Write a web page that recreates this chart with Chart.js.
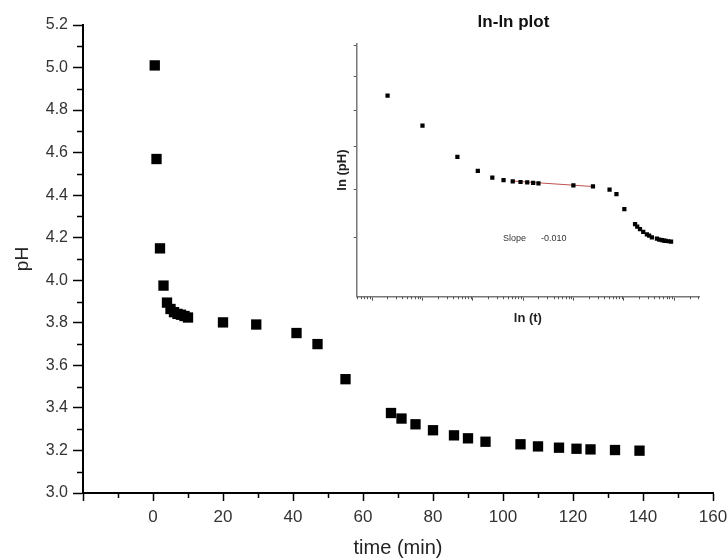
<!DOCTYPE html>
<html lang="en">
<head>
  <meta charset="UTF-8" />
  <title>pH vs time</title>
  <script src="https://cdn.jsdelivr.net/npm/chart.js"></script>
  <style>
    body { margin: 0; background: #fff; }
    .wrap { position: relative; width: 727px; height: 560px; }
    #main { position: absolute; left: 0; top: 0; }
    #inset { position: absolute; left: 328px; top: 0; }
  </style>
</head>
<body>
  <div class="wrap">
    <canvas id="main" width="727" height="560"></canvas>
    <canvas id="inset" width="380" height="330"></canvas>
  </div>
  <script>
    // data
    const timeMin = [0.5, 1, 2, 3, 4, 5, 6, 7, 8, 9, 10, 20, 29.5, 41, 47, 55, 68, 71, 75, 80, 86, 90, 95, 105, 110, 116, 121, 125, 132, 139];
    const pHValues = [5.01, 4.57, 4.15, 3.975, 3.895, 3.865, 3.85, 3.842, 3.838, 3.832, 3.825, 3.802, 3.792, 3.752, 3.700, 3.535, 3.376, 3.350, 3.323, 3.295, 3.271, 3.257, 3.241, 3.229, 3.219, 3.213, 3.208, 3.205, 3.202, 3.199];

    // linear fit drawn in the inset (slope -0.010)
    const fitTime = [6, 29.5];
    const fitPH = [3.853, 3.789];
    const slopeText = ['Slope', '-0.010'];

    // main axes
    const xMajor = [-20, 0, 20, 40, 60, 80, 100, 120, 140, 160];
    const xLabels = ['', '0', '20', '40', '60', '80', '100', '120', '140', '160'];
    const xMinor = [-10, 10, 30, 50, 70, 90, 110, 130, 150];
    const yMajor = [3.0, 3.2, 3.4, 3.6, 3.8, 4.0, 4.2, 4.4, 4.6, 4.8, 5.0, 5.2];
    const yLabels = ['3.0', '3.2', '3.4', '3.6', '3.8', '4.0', '4.2', '4.4', '4.6', '4.8', '5.0', '5.2'];
    const yMinor = [3.1, 3.3, 3.5, 3.7, 3.9, 4.1, 4.3, 4.5, 4.7, 4.9, 5.1];

    // inset axes (ln scales, labels unreadable in the original)
    const insetTMajor = [0.368, 1, 2.718, 7.389, 20.09, 54.60, 148.4];
    const insetPHTicks = [5.85, 5.31, 4.79, 4.28, 3.75, 3.24];

    const FONT = 'Arial, "Liberation Sans", sans-serif';

    const mainMinor = {
      id: 'mainMinor',
      afterDraw(chart) {
        const ctx = chart.ctx, a = chart.chartArea;
        const xs = chart.scales.x, ys = chart.scales.y;
        ctx.save();
        ctx.strokeStyle = '#000';
        ctx.lineWidth = 1.5;
        ctx.beginPath();
        xMinor.forEach(v => {
          const px = Math.round(xs.getPixelForValue(v)) + 0.5;
          ctx.moveTo(px, a.bottom);
          ctx.lineTo(px, a.bottom + 5);
        });
        yMinor.forEach(v => {
          const py = Math.round(ys.getPixelForValue(v)) + 0.5;
          ctx.moveTo(a.left - 6, py);
          ctx.lineTo(a.left, py);
        });
        ctx.stroke();
        ctx.restore();
      }
    };

    new Chart(document.getElementById('main'), {
      type: 'scatter',
      data: {
        datasets: [{
          data: timeMin.map((t, i) => ({ x: t, y: pHValues[i] })),
          pointStyle: 'rect',
          pointRadius: 7.3,
          backgroundColor: '#000',
          borderColor: '#000',
          borderWidth: 0
        }]
      },
      options: {
        responsive: false,
        animation: false,
        layout: { padding: { top: 25, right: 14, left: 0, bottom: 0 } },
        plugins: { legend: { display: false }, tooltip: { enabled: false } },
        scales: {
          x: {
            type: 'linear', min: -20, max: 160,
            afterBuildTicks: s => { s.ticks = xMajor.map(v => ({ value: v })); },
            afterFit: s => { s.height = 67; s.paddingLeft = 0; s.paddingRight = 0; },
            ticks: { callback: (v, i) => xLabels[i], color: '#333', font: { size: 17, family: FONT }, padding: 6, maxRotation: 0, autoSkip: false },
            grid: { drawOnChartArea: false, tickLength: 8, tickColor: '#000', tickWidth: 1.5 },
            border: { color: '#000', width: 2 },
            title: { display: true, text: 'time (min)', color: '#222', font: { size: 20, family: FONT }, padding: { top: 0, bottom: 0 } }
          },
          y: {
            type: 'linear', min: 3.0, max: 5.2,
            afterBuildTicks: s => { s.ticks = yMajor.map(v => ({ value: v })); },
            afterFit: s => { s.width = 83; },
            ticks: { callback: (v, i) => yLabels[i], color: '#333', font: { size: 16, family: FONT }, padding: 5, autoSkip: false },
            grid: { drawOnChartArea: false, tickLength: 10, tickColor: '#000', tickWidth: 1.5 },
            border: { color: '#000', width: 2 },
            title: { display: true, text: 'pH', color: '#222', font: { size: 19, family: FONT }, padding: { top: 11, bottom: 0 } }
          }
        }
      },
      plugins: [mainMinor]
    });

    const insetExtras = {
      id: 'insetExtras',
      afterDraw(chart) {
        const ctx = chart.ctx, a = chart.chartArea;
        const xs = chart.scales.x;
        ctx.save();
        // log-style minor ticks between the e^k majors
        ctx.strokeStyle = '#555';
        ctx.lineWidth = 1;
        ctx.beginPath();
        const px = insetTMajor.map(v => xs.getPixelForValue(v));
        const step = px[1] - px[0];
        for (let k = -1; k < px.length; k++) {
          const p0 = k < 0 ? px[0] - step : px[k];
          for (let m = 2; m <= 9; m++) {
            const p = p0 + step * Math.log10(m);
            if (p < a.left || p > a.right) continue;
            ctx.moveTo(Math.round(p) + 0.5, a.bottom);
            ctx.lineTo(Math.round(p) + 0.5, a.bottom + 2.5);
          }
        }
        ctx.stroke();
        // fit annotation
        ctx.fillStyle = '#333';
        ctx.font = '9px ' + FONT;
        ctx.textBaseline = 'middle';
        ctx.fillText(slopeText[0], 175, 239);
        ctx.fillText(slopeText[1], 213, 239);
        ctx.restore();
      }
    };

    new Chart(document.getElementById('inset'), {
      type: 'scatter',
      data: {
        datasets: [
          {
            data: timeMin.map((t, i) => ({ x: t, y: pHValues[i] })),
            pointStyle: 'rect',
            pointRadius: 3,
            backgroundColor: '#000',
            borderWidth: 0,
            order: 0
          },
          {
            data: fitTime.map((t, i) => ({ x: t, y: fitPH[i] })),
            showLine: true,
            borderColor: '#c0504d',
            borderWidth: 1,
            pointRadius: 0,
            order: 1
          }
        ]
      },
      options: {
        responsive: false,
        animation: false,
        layout: { padding: { top: 0, right: 9, left: 0, bottom: 0 } },
        plugins: {
          legend: { display: false },
          tooltip: { enabled: false },
          title: { display: true, text: 'ln-ln plot', color: '#111', font: { size: 17, weight: 'bold', family: FONT }, padding: { top: 12, bottom: 11 } }
        },
        scales: {
          x: {
            type: 'logarithmic', min: 0.271, max: 242,
            afterBuildTicks: s => { s.ticks = insetTMajor.map(v => ({ value: v })); },
            afterFit: s => { s.height = 33.3; },
            ticks: { display: false },
            grid: { drawOnChartArea: false, tickLength: 4, tickColor: '#555', tickWidth: 1 },
            border: { color: '#777', width: 1.5 },
            title: { display: true, text: 'ln (t)', color: '#222', font: { size: 13, weight: 'bold', family: FONT }, padding: { top: 0, bottom: 4 } }
          },
          y: {
            type: 'logarithmic', min: 2.727, max: 5.884,
            afterBuildTicks: s => { s.ticks = insetPHTicks.map(v => ({ value: v })); },
            afterFit: s => { s.width = 28.7; },
            ticks: { display: false },
            grid: { drawOnChartArea: false, tickLength: 3, tickColor: '#555', tickWidth: 1 },
            border: { color: '#777', width: 1.5 },
            title: { display: true, text: 'ln (pH)', color: '#222', font: { size: 13, weight: 'bold', family: FONT }, padding: { top: 7, bottom: 0 } }
          }
        }
      },
      plugins: [insetExtras]
    });
  </script>
</body>
</html>
